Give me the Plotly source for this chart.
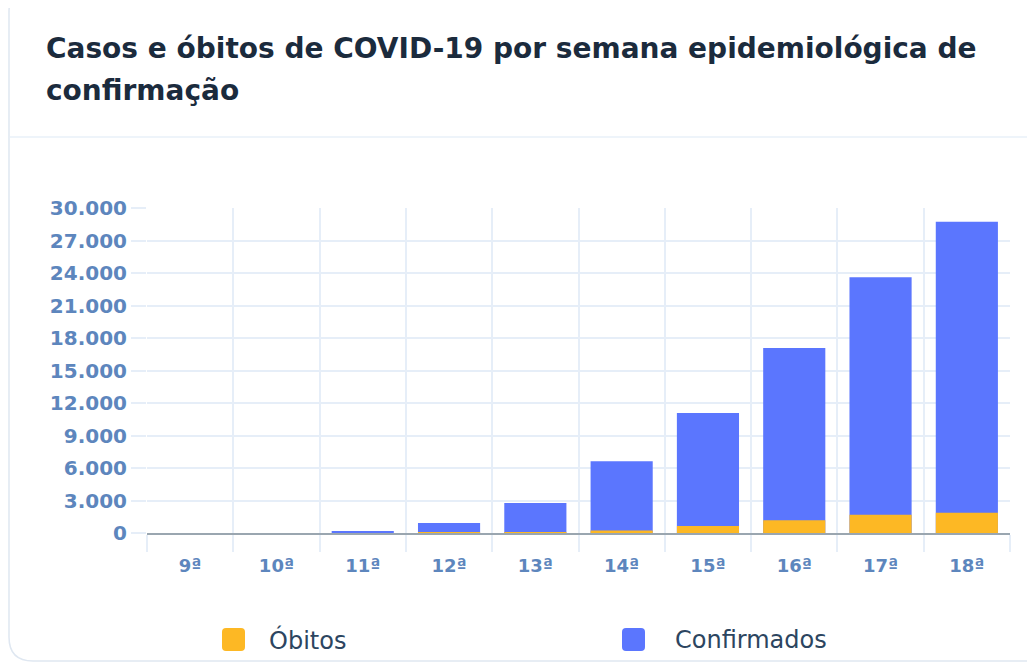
import plotly.graph_objects as go

weeks = ["9ª", "10ª", "11ª", "12ª", "13ª", "14ª", "15ª", "16ª", "17ª", "18ª"]
confirmados = [0, 0, 120, 920, 2780, 6620, 11080, 17080, 23600, 28740]
obitos = [0, 0, 0, 25, 90, 240, 650, 1170, 1690, 1860]
y_ticks = [0, 3000, 6000, 9000, 12000, 15000, 18000, 21000, 24000, 27000, 30000]

W, H = 1035, 663
OFF = 8  # page body margin
# target screen positions of plot area
SL, SR, ST, SB = 147, 1010, 208, 533
L, T = SL - OFF, ST - OFF
R, B = W - (SR - OFF), H - (SB - OFF)
PW, PH = SR - SL, SB - ST

def px(x):
    return (x - SL) / PW

def py(y):
    return (SB - y) / PH

BLUE = "#5b76fe"
YELLOW = "#fdb824"
GRID = "#e6eef8"
TICKC = "#5d86bd"
NAVY = "#1b2b3d"
FONT = "DejaVu Sans"

fig = go.Figure()
fig.add_trace(go.Bar(x=weeks, y=confirmados, name="Confirmados", marker_color=BLUE,
                     marker_line_width=0, showlegend=False))
fig.add_trace(go.Bar(x=weeks, y=obitos, name="Óbitos", marker_color=YELLOW,
                     marker_line_width=0, showlegend=False))

def rounded_rect(x0, y0, x1, y1, r):
    def P(x, y):
        return f"{px(x):.5f},{py(y):.5f}"
    return (f"M {P(x0 + r, y0)} L {P(x1 - r, y0)} Q {P(x1, y0)} {P(x1, y0 + r)} "
            f"L {P(x1, y1 - r)} Q {P(x1, y1)} {P(x1 - r, y1)} "
            f"L {P(x0 + r, y1)} Q {P(x0, y1)} {P(x0, y1 - r)} "
            f"L {P(x0, y0 + r)} Q {P(x0, y0)} {P(x0 + r, y0)} Z")

shapes = [
    dict(type="path", xref="paper", yref="paper", path=rounded_rect(9, -12, 1070, 661, 24),
         line=dict(color="#dfe7f1", width=1.5), fillcolor="rgba(0,0,0,0)", layer="below"),
    dict(type="line", xref="paper", yref="paper", x0=px(10), x1=px(1043), y0=py(137), y1=py(137),
         line=dict(color="#e8f0f9", width=1.5)),
    dict(type="path", xref="paper", yref="paper", path=rounded_rect(222, 628, 245, 651, 4),
         line=dict(color=YELLOW, width=0), fillcolor=YELLOW),
    dict(type="path", xref="paper", yref="paper", path=rounded_rect(622, 628, 645, 651, 4),
         line=dict(color=BLUE, width=0), fillcolor=BLUE),
]

annotations = [
    dict(text="Casos e óbitos de COVID-19 por semana epidemiológica de", xref="paper", yref="paper",
         x=px(44), y=py(48), xanchor="left", yanchor="middle", showarrow=False,
         font=dict(family=FONT, size=28, color=NAVY, weight="bold")),
    dict(text="confirmação", xref="paper", yref="paper",
         x=px(44), y=py(90), xanchor="left", yanchor="middle", showarrow=False,
         font=dict(family=FONT, size=28, color=NAVY, weight="bold")),
    dict(text="Óbitos", xref="paper", yref="paper", x=px(267), y=py(640),
         xanchor="left", yanchor="middle", showarrow=False,
         font=dict(family=FONT, size=24, color="#2c4560")),
    dict(text="Confirmados", xref="paper", yref="paper", x=px(673), y=py(640),
         xanchor="left", yanchor="middle", showarrow=False,
         font=dict(family=FONT, size=24, color="#2c4560")),
]

fig.update_layout(
    width=W, height=H,
    margin=dict(l=L, r=R, t=T, b=B, autoexpand=False),
    barmode="overlay", bargap=0.28,
    plot_bgcolor="white", paper_bgcolor="white",
    separators=",.",
    font=dict(family=FONT),
    shapes=shapes, annotations=annotations,
)
fig.update_xaxes(
    type="category", tickson="boundaries", showgrid=True, gridcolor=GRID, gridwidth=1.5,
    ticks="outside", ticklen=17, tickcolor=GRID, tickwidth=1.5,
    showline=True, linecolor="#9aa6b0", linewidth=2, mirror=False,
    ticklabelstandoff=15,
    tickfont=dict(family=FONT, size=18, color=TICKC, weight="bold"),
)
fig.update_yaxes(
    range=[0, 30000], tickvals=y_ticks, tickformat=",d",
    showgrid=True, gridcolor=GRID, gridwidth=1.5, zeroline=False,
    ticks="outside", ticklen=15, tickcolor=GRID, tickwidth=1.5,
    tickfont=dict(family=FONT, size=20, color=TICKC, weight="bold"),
)

fig.write_html("out.html")
